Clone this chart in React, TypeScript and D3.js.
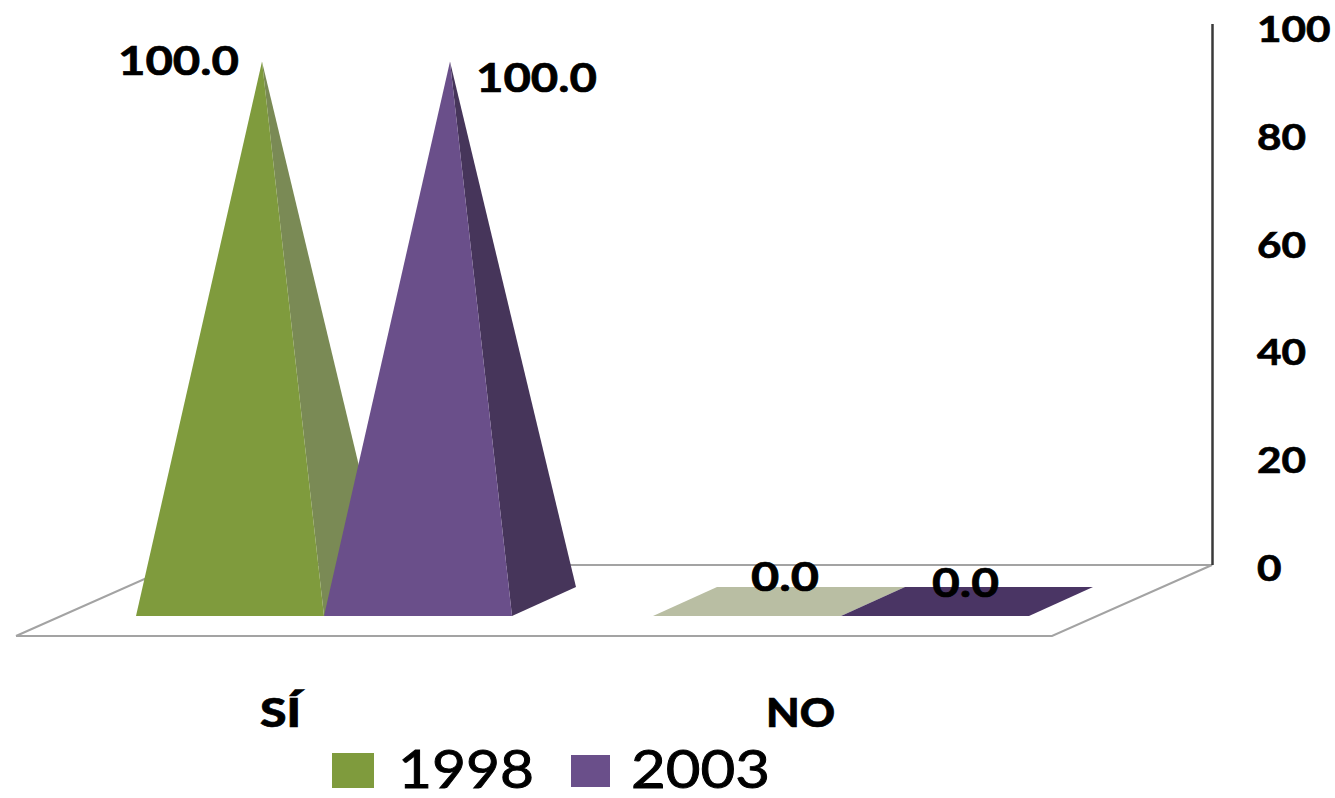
import React from "react";
import * as d3 from "d3";

const categories = ["SÍ", "NO"];
const seriesNames = ["1998", "2003"];
const values1998 = [100, 0];
const values2003 = [100, 0];
const axisTicks = [0, 20, 40, 60, 80, 100];

const W = 1335, H = 798;
const dx = 64, dy = 29;           // depth of a pyramid base
const floorDx = 160, floorDy = 71; // depth of floor
const frontY = 616;

const seriesValues = [values1998, values2003];
const frontColors = ["#7f9b3d", "#6a4f8a"];
const sideColors = ["#7a8a55", "#46355a"];
const flatColors = ["#b9bea3", "#4a3564"];

const xCat = d3.scaleOrdinal<string, number>().domain(categories).range([136, 653]);
const barW = 188;
const axisY = d3.scaleLinear().domain([0, 100]).range([569, 30]);
const height = d3.scaleLinear().domain([0, 100]).range([0, 540]);
const pts = (p: number[][]) => p.map((q) => q.join(",")).join(" ");

// label boxes: [x start, baseline, width]
const labelBoxes = [
  [[118, 75, 121], [751, 591, 68]],
  [[476, 92, 121], [932, 597, 67]],
];
const fontFam = "Lato, 'Open Sans', sans-serif";

function Label({ x, y, w, size, weight, sw = 0.7, children }: any) {
  return (
    <text x={x} y={y} fontFamily={fontFam} fontSize={size} fontWeight={weight} fill="#000"
      stroke="#000" strokeWidth={sw}
      textLength={w} lengthAdjust="spacingAndGlyphs">{children}</text>
  );
}

export default function App() {
  const line = d3.line();
  const fl = 16, fr = 1052, fb = 636;
  return (
    <svg width={W} height={H} style={{ position: "absolute", left: 0, top: 0, background: "#fff" }}>
      <path d={line([[fl, fb], [fl + floorDx, fb - floorDy], [fr + floorDx, fb - floorDy], [fr, fb], [fl, fb]])!}
        fill="#fff" stroke="#a3a3a3" strokeWidth={2} />
      <line x1={1212.5} x2={1212.5} y1={24} y2={565} stroke="#3a3a3a" strokeWidth={2.5} />
      {axisTicks.map((t) => (
        <Label key={t} x={1257} y={axisY(t) + 12} w={String(t).length * 24.5} size={36} weight={700}>{t}</Label>
      ))}
      {categories.map((c, ci) =>
        seriesValues.map((vals, si) => {
          const v = vals[ci];
          const x0 = xCat(c)! + si * barW;
          const x1 = x0 + barW;
          if (v === 0) {
            return <polygon key={`${ci}-${si}`} fill={flatColors[si]}
              points={pts([[x0, frontY], [x1, frontY], [x1 + dx, frontY - dy], [x0 + dx, frontY - dy]])} />;
          }
          const apex = [(x0 + x1) / 2 + dx / 2, frontY - dy / 2 - height(v)];
          return (
            <g key={`${ci}-${si}`}>
              <polygon fill={sideColors[si]} points={pts([[x1, frontY], [x1 + dx, frontY - dy], apex])} />
              <polygon fill={frontColors[si]} points={pts([[x0, frontY], [x1, frontY], apex])} />
            </g>
          );
        })
      )}
      {seriesValues.map((vals, si) =>
        vals.map((v, ci) => {
          const [x, y, w] = labelBoxes[si][ci];
          return <Label key={`${si}-${ci}`} x={x} y={y} w={w} size={40} weight={700}>{v.toFixed(1)}</Label>;
        })
      )}
      <Label x={260} y={727} w={41} size={40} weight={900}>{categories[0]}</Label>
      <Label x={766} y={727} w={69} size={40} weight={900}>{categories[1]}</Label>
      <rect x={332} y={753} width={42} height={35} fill={frontColors[0]} />
      <Label x={398} y={788} w={136} size={52} weight={400} sw={0.9}>{seriesNames[0]}</Label>
      <rect x={571} y={755} width={39} height={32} fill={frontColors[1]} />
      <Label x={631} y={788} w={139} size={52} weight={400} sw={0.9}>{seriesNames[1]}</Label>
    </svg>
  );
}
